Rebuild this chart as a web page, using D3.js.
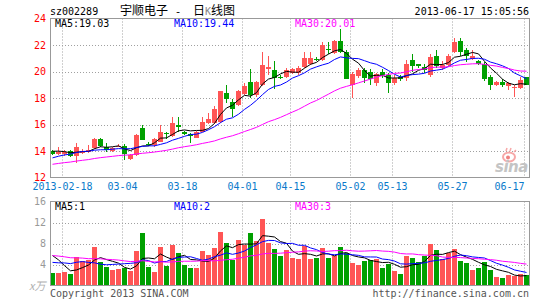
<!DOCTYPE html>
<html>
<head>
<meta charset="utf-8">
<script src="https://cdn.jsdelivr.net/npm/d3@7"></script>
<style>
body { margin: 0; background: #fff; }
text { font-family: "DejaVu Sans Mono", monospace; font-size: 10px; }
</style>
</head>
<body>
<div id="chart"></div>
<script>
'use strict';

// trading days shown (two days before the spring festival break first)
var dates = [
  '2013-02-07','2013-02-08',
  '2013-02-18','2013-02-19','2013-02-20','2013-02-21','2013-02-22',
  '2013-02-25','2013-02-26','2013-02-27','2013-02-28','2013-03-01',
  '2013-03-04','2013-03-05','2013-03-06','2013-03-07','2013-03-08',
  '2013-03-11','2013-03-12','2013-03-13','2013-03-14','2013-03-15',
  '2013-03-18','2013-03-19','2013-03-20','2013-03-21','2013-03-22',
  '2013-03-25','2013-03-26','2013-03-27','2013-03-28','2013-03-29',
  '2013-04-01','2013-04-02','2013-04-03',
  '2013-04-08','2013-04-09','2013-04-10','2013-04-11','2013-04-12',
  '2013-04-15','2013-04-16','2013-04-17','2013-04-18','2013-04-19',
  '2013-04-22','2013-04-23','2013-04-24','2013-04-25','2013-04-26',
  '2013-05-02','2013-05-03',
  '2013-05-06','2013-05-07','2013-05-08','2013-05-09','2013-05-10',
  '2013-05-13','2013-05-14','2013-05-15','2013-05-16','2013-05-17',
  '2013-05-20','2013-05-21','2013-05-22','2013-05-23','2013-05-24',
  '2013-05-27','2013-05-28','2013-05-29','2013-05-30','2013-05-31',
  '2013-06-03','2013-06-04','2013-06-05','2013-06-06','2013-06-07',
  '2013-06-13','2013-06-14',
  '2013-06-17'
];

var opens = [14.0,13.75,13.8,14.0,13.6,13.85,13.9,14.2,14.9,14.3,
  14.0,14.35,14.4,13.4,13.7,15.7,14.55,14.45,14.7,15.35,
  15.1,16.0,15.4,15.3,15.0,15.45,16.1,16.1,16.2,18.35,
  17.7,17.5,18.3,19.2,18.2,19.0,20.2,20.1,19.6,19.55,
  19.85,19.85,20.35,20.6,20.95,20.9,21.7,21.4,22.3,21.5,
  18.95,19.65,20.1,19.95,19.1,20.0,19.7,19.1,19.6,19.5,
  20.85,20.55,20.35,19.75,21.15,20.25,20.5,21.5,22.3,21.6,
  20.95,20.8,20.6,19.6,19.0,19.2,18.9,18.75,18.75,19.55];
var highs = [14.05,14.3,14.1,14.05,14.6,14.15,14.45,14.95,14.95,14.6,
  14.3,14.5,14.5,13.75,15.25,15.95,14.65,14.95,15.95,15.45,
  16.55,16.6,15.5,15.35,15.5,16.55,16.9,17.4,18.55,19.0,
  17.9,18.6,19.1,20.2,19.3,21.5,21.15,20.8,19.7,20.3,
  20.3,20.4,21.5,21.5,21.1,22.2,22.2,22.4,23.2,21.6,
  20.0,20.3,20.3,20.2,19.9,20.2,19.9,19.7,19.75,20.85,
  21.3,20.6,20.6,21.3,21.6,20.8,21.35,22.5,22.5,21.75,
  21.6,20.9,20.7,19.75,19.3,19.4,19.2,19.0,19.55,19.6];
var lows = [13.7,13.7,13.65,13.55,13.1,13.8,13.85,14.15,14.3,13.9,
  13.95,14.3,13.3,13.35,13.65,14.8,14.35,14.3,14.65,14.9,
  15.05,15.4,15.2,14.6,14.95,15.4,16.05,16.05,16.15,17.6,
  16.6,17.4,18.2,18.0,18.1,18.9,19.75,18.7,19.4,19.5,
  19.8,19.7,20.3,20.5,20.8,20.8,21.3,21.3,21.4,19.4,
  18.0,19.5,19.1,19.0,18.9,19.5,18.35,19.0,19.3,19.3,
  20.0,20.25,19.85,19.6,20.3,20.1,20.4,21.4,21.2,20.75,
  20.9,20.5,19.3,18.6,18.9,18.85,18.6,18.05,18.7,19.0];
var closes = [13.8,13.95,13.9,13.6,14.3,14.0,14.05,14.9,14.35,14.1,
  14.2,14.4,13.75,13.7,15.2,14.85,14.45,14.9,15.45,15.3,
  16.15,15.8,15.25,15.1,15.45,16.2,16.45,17.2,18.5,17.9,
  17.2,18.5,18.9,18.2,19.2,20.5,20.35,19.5,19.55,20.15,
  20.2,20.3,21.05,21.0,20.9,22.0,21.6,22.3,21.5,19.45,
  19.8,20.1,19.5,19.4,19.8,19.75,19.1,19.5,19.45,20.6,
  20.45,20.45,20.15,21.1,20.45,20.5,21.15,22.2,21.45,21.2,
  21.2,20.6,19.4,18.95,19.2,18.95,19.1,18.8,19.35,19.0];
// volume, unit 10k lots
var volumes = [2.35,2.35,2.55,2.15,5.4,4.6,4.8,7.3,4.45,3.55,
  2.95,3.05,3.3,2.8,6.6,10.0,3.5,2.55,7.3,3.7,
  7.7,6.15,3.9,3.35,3.3,6.6,5.75,7.15,10.15,8.1,
  4.9,8.65,7.7,10.05,8.4,12.7,8.1,6.95,5.7,6.8,
  5.2,5.05,7.6,5.05,5.2,7.15,5.2,5.55,7.35,6.2,
  4.25,3.85,4.7,4.9,5.1,3.3,4.1,2.8,2.15,5.55,
  5.2,4.45,5.55,7.9,6.7,5.0,6.2,6.9,4.6,4.3,
  2.9,3.4,4.5,3.0,1.6,1.45,2.0,1.9,2.1,2.0];

// the 29 sessions before the window, only used for the moving averages
var preCloses = [12.0,12.1,12.2,12.1,12.3,12.4,12.5,12.4,12.6,12.7,12.8,12.7,
  13.0,13.2,13.3,13.2,13.4,13.5,13.3,13.4,
  12.7,12.9,13.0,13.1,13.2,13.9,14.1,14.0,14.1];
var preVolumes = [5.2,6.8,7.5,5.9,6.1,8.2,7.0,5.5,6.3,4.8,5.6,7.9,6.6,5.1,6.9,7.2,5.8,6.0,6.4,6.2,
  3.2,2.8,3.4,2.9,3.2,6.5,8.0,7.1,4.6];

var tickDates = ['2013-02-18','2013-03-04','2013-03-18','2013-04-01','2013-04-15',
  '2013-05-02','2013-05-13','2013-05-27','2013-06-17'];
var tickLabels = ['2013-02-18','03-04','03-18','04-01','04-15','05-02','05-13','05-27','06-17'];
var priceTicks = [12,14,16,18,20,22,24];
var volumeTicks = [4,8,12,16];

var maPeriods = [5, 10, 30];
var maColors = ['#000', '#00f', '#f0f'];
var priceMaLabels = ['MA5:19.03', 'MA10:19.44', 'MA30:20.01'];
var volumeMaLabels = ['MA5:1', 'MA10:2', 'MA30:3'];

var width = 545, height = 300;
var left = 50, right = 530;
var pTop = 18.5, pBottom = 177.5;
var vTop = 201.5, vBottom = 285.5;
var up = '#ff5555', down = '#00a000';
var gridColor = '#a0a0a0', frameColor = '#999';

var x = d3.scaleBand().domain(dates).range([left, right]);
var bw = x.step() - 1;
var y = d3.scaleLinear().domain([12, 24]).range([pBottom, pTop]);
var yv = d3.scaleLinear().domain([0, 16]).range([vBottom, vTop]);

var rows = dates.map(function(d, i) {
  return { date: d, o: opens[i], h: highs[i], l: lows[i], c: closes[i], v: volumes[i] };
});

function movingAverage(values, pre, n) {
  var all = pre.concat(values);
  return values.map(function(v, i) {
    var end = pre.length + i + 1;
    return d3.mean(all.slice(end - n, end));
  });
}

var svg = d3.select('#chart')
  .append('svg')
  .attr('width', width)
  .attr('height', height);

var defs = svg.append('defs');
defs.append('clipPath').attr('id', 'clipP').append('rect')
  .attr('x', left).attr('y', pTop).attr('width', 529.5 - left).attr('height', pBottom - pTop);
defs.append('clipPath').attr('id', 'clipV').append('rect')
  .attr('x', left).attr('y', vTop).attr('width', 529.5 - left).attr('height', vBottom - vTop);

// titles
svg.append('text').attr('x', 50).attr('y', 14.5).text('sz002289');
svg.append('text').attr('x', 120).attr('y', 15)
  .style('font-family', '"Noto Sans CJK SC", sans-serif').style('font-size', '12px')
  .text('宇顺电子');
svg.append('text').attr('x', 178).attr('y', 14.5).attr('text-anchor', 'middle')
  .style('font-size', '11px').text('-');
var t2 = svg.append('text').attr('x', 193).attr('y', 15)
  .style('font-family', '"Noto Sans CJK SC", sans-serif').style('font-size', '12px');
t2.append('tspan').text('日');
t2.append('tspan').attr('fill', '#888').style('font-family', '"DejaVu Sans Mono", monospace')
  .style('font-size', '10px').text('K');
t2.append('tspan').text('线图');
svg.append('text').attr('x', 529).attr('y', 14.5).attr('text-anchor', 'end')
  .text('2013-06-17 15:05:56');

// grids
function grid(top, bottom, scale, values) {
  var g = svg.append('g')
    .attr('stroke', gridColor)
    .attr('stroke-dasharray', '1,2');
  g.selectAll('.h').data(values).enter().append('line')
    .attr('x1', left).attr('x2', 529.5)
    .attr('y1', function(d) { return Math.round(scale(d)) + 0.5; })
    .attr('y2', function(d) { return Math.round(scale(d)) + 0.5; });
  g.selectAll('.v').data(tickDates).enter().append('line')
    .attr('x1', function(d) { return x(d) + 0.5; })
    .attr('x2', function(d) { return x(d) + 0.5; })
    .attr('y1', top).attr('y2', bottom);
}
grid(pTop, pBottom, y, [14, 16, 18, 20, 22]);
grid(vTop, vBottom, yv, [4, 8, 12]);

// price axis
var ay = svg.append('g')
  .attr('transform', 'translate(' + left + ',0)')
  .call(d3.axisLeft(y).tickValues(priceTicks).tickSize(0).tickPadding(4));
ay.select('.domain').remove();
ay.selectAll('text').attr('fill', '#f00')
  .style('font-family', '"DejaVu Sans Mono", monospace').style('font-size', '10px');

var av = svg.append('g')
  .attr('transform', 'translate(' + left + ',0)')
  .call(d3.axisLeft(yv).tickValues(volumeTicks).tickSize(0).tickPadding(4));
av.select('.domain').remove();
av.selectAll('text').attr('fill', '#999')
  .style('font-family', '"DejaVu Sans Mono", monospace').style('font-size', '10px');

// date labels
svg.append('g').selectAll('text')
  .data(tickDates)
  .enter()
  .append('text')
  .attr('y', 190)
  .attr('fill', '#0a7acb')
  .attr('x', function(d) { return x(d) + 0.5; })
  .attr('text-anchor', function(d, i) {
    return x(d) + tickLabels[i].length * 3 > 529 ? 'end' : 'middle';
  })
  .text(function(d, i) { return tickLabels[i]; });

// candles
var pc = svg.append('g').attr('clip-path', 'url(#clipP)');
var candle = pc.selectAll('g')
  .data(rows)
  .enter()
  .append('g');
candle.append('line')
  .attr('x1', function(d) { return x(d.date) + 2.5; })
  .attr('x2', function(d) { return x(d.date) + 2.5; })
  .attr('y1', function(d) { return Math.round(y(d.h)); })
  .attr('y2', function(d) { return Math.round(y(d.l)); })
  .attr('stroke', function(d) { return d.c >= d.o ? up : down; });
candle.append('rect')
  .attr('x', function(d) { return x(d.date); })
  .attr('width', bw)
  .attr('y', function(d) { return Math.round(y(Math.max(d.o, d.c))); })
  .attr('height', function(d) {
    return Math.max(1, Math.round(y(Math.min(d.o, d.c))) - Math.round(y(Math.max(d.o, d.c))));
  })
  .attr('fill', function(d) { return d.c >= d.o ? up : down; });

// volume bars
var vc = svg.append('g').attr('clip-path', 'url(#clipV)');
vc.selectAll('rect')
  .data(rows)
  .enter()
  .append('rect')
  .attr('x', function(d) { return x(d.date); })
  .attr('width', bw)
  .attr('y', function(d) { return Math.round(yv(d.v)); })
  .attr('height', function(d) { return vBottom - Math.round(yv(d.v)); })
  .attr('fill', function(d) { return d.c >= d.o ? up : down; });

// moving averages
function drawMa(g, values, pre, scale) {
  maPeriods.forEach(function(n, k) {
    var line = d3.line()
      .x(function(d, i) { return x(dates[i]) + 2.5; })
      .y(function(d) { return scale(d); });
    g.append('path')
      .datum(movingAverage(values, pre, n))
      .attr('d', line)
      .attr('fill', 'none')
      .attr('stroke', maColors[k])
      .attr('stroke-width', 1);
  });
}
drawMa(pc, closes, preCloses, y);
drawMa(vc, volumes, preVolumes, yv);

// frames
svg.append('rect').attr('x', 50.5).attr('y', pTop).attr('width', 479).attr('height', pBottom - pTop)
  .attr('fill', 'none').attr('stroke', frameColor);
svg.append('rect').attr('x', 50.5).attr('y', vTop).attr('width', 479).attr('height', vBottom - vTop)
  .attr('fill', 'none').attr('stroke', frameColor);

// legends
var labelX = [55, 174, 295];
svg.append('g').selectAll('text').data(priceMaLabels).enter().append('text')
  .attr('x', function(d, i) { return labelX[i]; })
  .attr('y', 27)
  .attr('fill', function(d, i) { return maColors[i]; })
  .text(function(d) { return d; });
svg.append('g').selectAll('text').data(volumeMaLabels).enter().append('text')
  .attr('x', function(d, i) { return labelX[i]; })
  .attr('y', 210)
  .attr('fill', function(d, i) { return maColors[i]; })
  .text(function(d) { return d; });

// sina watermark
var logo = svg.append('g');
logo.append('ellipse').attr('cx', 509).attr('cy', 157).attr('rx', 6).attr('ry', 4.5)
  .attr('fill', 'none').attr('stroke', '#f7a8a8').attr('stroke-width', 2);
logo.append('circle').attr('cx', 508).attr('cy', 157.5).attr('r', 2).attr('fill', '#f08080');
logo.append('path').attr('d', 'M506,151 l1,-3 M510,151 l1,-3 M514,152 l2,-2')
  .attr('stroke', '#f7a8a8').attr('stroke-width', 1.5);
logo.append('text').attr('x', 495).attr('y', 172)
  .style('font-family', '"DejaVu Sans", sans-serif').style('font-size', '15px')
  .style('font-weight', 'bold').style('font-style', 'italic')
  .attr('fill', '#c4c4c4').attr('letter-spacing', '-0.5')
  .text('sina');

// footer
svg.append('text').attr('x', 29).attr('y', 290)
  .style('font-family', '"Noto Sans CJK SC", sans-serif').style('font-size', '11px')
  .style('font-style', 'italic').attr('fill', '#b0b0b0').text('x万');
svg.append('text').attr('x', 50).attr('y', 297).attr('fill', '#555')
  .text('Copyright 2013 SINA.COM');
svg.append('text').attr('x', 529).attr('y', 297).attr('fill', '#555')
  .attr('text-anchor', 'end').text('http://finance.sina.com.cn');
</script>
</body>
</html>
